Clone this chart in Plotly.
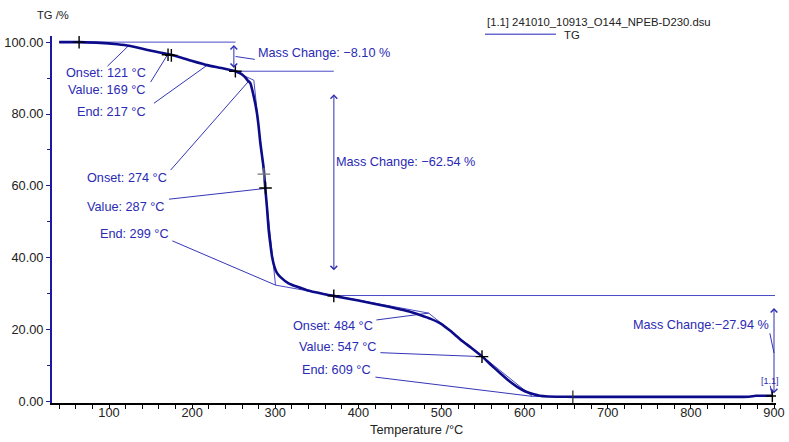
import plotly.graph_objects as go

# ---- TG curve (Temperature °C, mass %) ----
temp = [40, 64, 90, 110, 124, 145, 172, 195, 218, 235, 252, 258, 263, 267, 270, 274, 278, 280, 282,
        284, 286, 288, 290, 292, 294, 296, 299, 302, 306, 316, 338, 370, 400, 438, 451, 463, 475,
        487, 499, 511, 523, 536, 549, 560, 571, 581, 591, 601, 611, 618, 628, 640, 660, 700, 800,
        870, 878, 898]
mass = [100.0, 100.0, 99.8, 99.4, 99.0, 97.9, 96.6, 95.1, 93.6, 92.8, 91.9, 91.3, 90.4, 89.3, 88.6,
        85.0, 80.2, 76.5, 72.0, 68.5, 65.0, 59.4, 54.0, 48.0, 44.0, 40.5, 37.5, 35.8, 34.7, 32.9,
        31.0, 29.4, 28.1, 26.3, 25.6, 24.9, 24.0, 23.0, 21.7, 19.6, 17.2, 14.9, 12.5, 10.1, 7.8,
        5.8, 4.1, 2.8, 2.0, 1.6, 1.4, 1.35, 1.3, 1.3, 1.3, 1.35, 1.6, 1.6]

# ---- evaluation construction lines (segments: x0, y0, x1, y1) ----
construction_segments = [
    (40, 100.0, 252.2, 100.0),
    (252.2, 91.9, 370.4, 91.9),
    (252.2, 91.7, 274.2, 89.4),
    (274.2, 89.4, 300.3, 32.4),
    (300.3, 32.4, 370.4, 29.5),
    (370.4, 29.5, 901.2, 29.5),
    (370.4, 29.5, 484.6, 24.6),
    (484.6, 24.6, 609.2, 1.45),
    (609.2, 1.45, 660.0, 1.35),
]

# ---- leader lines from labels to curve ----
leader_segments = [
    (98.1, 93.3, 124.0, 99.1),
    (150.1, 88.9, 170.2, 96.4),
    (154.1, 83.0, 218.2, 93.6),
    (174.1, 64.4, 267.9, 89.1),
    (172.1, 56.3, 288.3, 59.3),
    (176.2, 44.7, 300.3, 32.4),
    (421.7, 22.7, 484.6, 24.6),
    (426.5, 13.6, 548.7, 12.5),
    (420.5, 6.8, 609.2, 1.45),
    (252.2, 96.0, 275.4, 95.2),
    (895.0, 19.0, 900.0, 13.5),
    (895.5, 4.4, 898.0, 1.6),
]

# ---- labels ----
label_texts = ["Onset: 121 °C", "Value: 169 °C", "End: 217 °C",
               "Onset: 274 °C", "Value: 287 °C", "End: 299 °C",
               "Onset: 484 °C", "Value: 547 °C", "End: 609 °C"]
label_x = [146.5, 146.5, 146.5, 172.2, 169.3, 174.1, 420.5, 425.3, 418.1]
label_y = [91.5, 86.7, 80.6, 62.3, 54.2, 46.5, 20.9, 15.3, 8.8]

mass_change_texts = ["Mass Change: −8.10 %", "Mass Change: −62.54 %", "Mass Change:−27.94 %"]
mass_change_x = [276.3, 370.6, 896.0]
mass_change_y = [97.0, 66.55, 21.3]
mass_change_anchor = ["left", "left", "right"]

# arrows (x, y_top, y_bottom)
arrow_x = [250.2, 370.5, 900.0]
arrow_top = [99.2, 85.5, 26.0]
arrow_bottom = [92.4, 36.1, 1.9]

# cross markers
cross_x = [64, 171, 175, 252, 288.3, 370.4, 548.7, 898]
cross_y = [100.0, 96.5, 96.3, 91.9, 59.4, 29.4, 12.5, 1.55]
grey_cross_x = [286.3]
grey_cross_y = [63.3]
tick_mark_x = [658]
tick_mark_y = [1.3]

CURVE = "#0c0c8a"
THIN = "#4b4bc6"
TEXT = "#2a2ab4"
FONT = "Liberation Sans, Arial, sans-serif"

fig = go.Figure()

def add_segments(segs, color, width):
    xs, ys = [], []
    for x0, y0, x1, y1 in segs:
        xs += [x0, x1, None]
        ys += [y0, y1, None]
    fig.add_trace(go.Scatter(x=xs, y=ys, mode="lines", line=dict(color=color, width=width),
                             hoverinfo="skip", showlegend=False))

add_segments(construction_segments, THIN, 1)
add_segments(leader_segments, "#3535b8", 1)

fig.add_trace(go.Scatter(x=temp, y=mass, mode="lines",
                         line=dict(color=CURVE, width=2.6, shape="spline", smoothing=0.5),
                         showlegend=False, hoverinfo="skip"))

fig.add_trace(go.Scatter(x=cross_x, y=cross_y, mode="markers",
                         marker=dict(symbol="cross-thin", size=9, line=dict(color="black", width=1.4)),
                         showlegend=False, hoverinfo="skip"))
fig.add_trace(go.Scatter(x=grey_cross_x, y=grey_cross_y, mode="markers",
                         marker=dict(symbol="cross-thin", size=9, line=dict(color="#777777", width=1.3)),
                         showlegend=False, hoverinfo="skip"))
fig.add_trace(go.Scatter(x=tick_mark_x, y=tick_mark_y, mode="markers",
                         marker=dict(symbol="line-ns", size=9, line=dict(color="#333333", width=1.3)),
                         showlegend=False, hoverinfo="skip"))

annotations = []
for t, x, y in zip(label_texts, label_x, label_y):
    annotations.append(dict(text=t, x=x, y=y, xref="x", yref="y", xanchor="right", yanchor="middle",
                            showarrow=False, font=dict(family=FONT, size=12.7, color=TEXT)))
for t, x, y, a in zip(mass_change_texts, mass_change_x, mass_change_y, mass_change_anchor):
    annotations.append(dict(text=t, x=x, y=y, xref="x", yref="y", xanchor=a, yanchor="middle",
                            showarrow=False, font=dict(family=FONT, size=12.7, color=TEXT)))
for x, yt, yb in zip(arrow_x, arrow_top, arrow_bottom):
    annotations.append(dict(text="", x=x, y=yt, ax=x, ay=yb, xref="x", yref="y", axref="x", ayref="y",
                            showarrow=True, arrowside="end+start", arrowhead=4, startarrowhead=4,
                            arrowsize=1.3, startarrowsize=1.3, arrowwidth=1, arrowcolor="#3030b0"))
annotations.append(dict(text="[1.1]", x=895.2, y=5.6, xref="x", yref="y", xanchor="center",
                        yanchor="middle", showarrow=False, font=dict(family=FONT, size=9, color=TEXT)))
# axis title and legend texts
annotations.append(dict(text="TG /%", x=0.0007, y=1.057, xref="paper", yref="paper", xanchor="center",
                        yanchor="middle", showarrow=False, font=dict(family=FONT, size=11.2, color="#222222")))
annotations.append(dict(text="Temperature /°C", x=0.504, y=-0.071, xref="paper", yref="paper",
                        xanchor="center", yanchor="middle", showarrow=False,
                        font=dict(family=FONT, size=12.8, color="#222222")))
annotations.append(dict(text="[1.1] 241010_10913_O144_NPEB-D230.dsu", x=0.598, y=1.039, xref="paper",
                        yref="paper", xanchor="left", yanchor="middle", showarrow=False,
                        font=dict(family=FONT, size=11.3, color="#222222")))
annotations.append(dict(text="TG", x=0.7044, y=1.0027, xref="paper", yref="paper", xanchor="left",
                        yanchor="middle", showarrow=False, font=dict(family=FONT, size=11.3, color="#222222")))

fig.add_shape(type="line", xref="paper", yref="paper", x0=0.598, x1=0.696, y0=1.0046, y1=1.0046,
              line=dict(color="#6a6ad0", width=1.5))

fig.update_layout(
    width=789, height=442, autosize=False,
    margin=dict(l=52, r=13, t=36, b=39),
    paper_bgcolor="white", plot_bgcolor="white",
    showlegend=False,
    annotations=annotations,
    font=dict(family=FONT),
    xaxis=dict(range=[31.4, 902.4], showline=True, linecolor="black", linewidth=2,
               ticks="outside", ticklen=4, tickcolor="black", tick0=0, dtick=100,
               minor=dict(dtick=20, tick0=0, ticks="outside", ticklen=4, tickcolor="black"),
               showgrid=False, zeroline=False, automargin=False, ticklabelstandoff=-7,
               tickfont=dict(family=FONT, size=12.8, color="#222222")),
    yaxis=dict(range=[-0.4, 101.7], showline=True, linecolor="#1a1aa0", linewidth=2,
               ticks="outside", ticklen=4, tickcolor="#1a1aa0", tick0=0, dtick=20,
               tickformat=".2f", automargin=False,
               minor=dict(dtick=10, tick0=0, ticks="outside", ticklen=3, tickcolor="#1a1aa0"),
               showgrid=False, zeroline=False,
               tickfont=dict(family=FONT, size=12.8, color="#222222")),
)

fig.write_html("out.html")
